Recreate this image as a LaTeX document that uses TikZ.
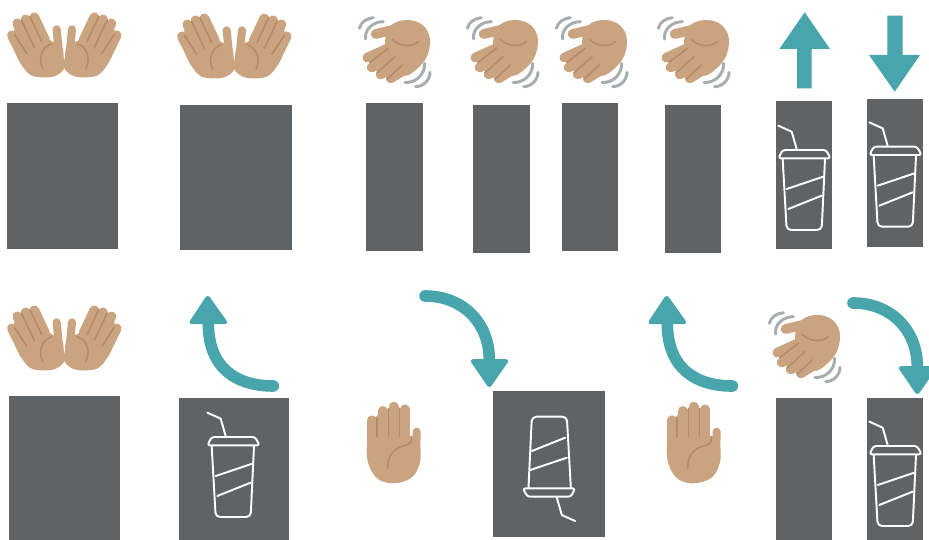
\documentclass[tikz,border=0pt]{standalone}
\usepackage{xcolor}
\definecolor{mlslate}{RGB}{95,99,102}
\definecolor{mlteal}{RGB}{71,165,171}
\definecolor{mlskin}{RGB}{202,163,128}
\definecolor{mlcrease}{RGB}{178,140,104}
\definecolor{mlwave}{RGB}{168,173,176}
\newcommand{\openhalf}{
  \draw[finger] (36,106) -- (75,185);
  \draw[finger] (52,70) -- (92,155);
  \draw[finger] (77,58) -- (115,135);
  \draw[finger] (103,52) -- (135,120);
  \draw[thumb] (170,88) -- (176,150);
  \fill[skin] (36,106) -- (52,70) -- (77,58) -- (103,52) -- (135,120) -- (75,185) -- cycle;
  \fill[skin] plot[smooth cycle,tension=0.6] coordinates {(193,205) (165,228) (125,232) (90,224) (62,190) (52,150) (110,100) (152,122) (185,140) (191,170)};
  \draw[crease] (44,104) -- (80,160);
  \draw[crease] (64,60) -- (103,142);
  \draw[crease] (90,50) -- (125,125);
  \draw[crease] (155,131) .. controls (128,140) and (112,170) .. (128,205);
}
\tikzset{
  panel/.style={fill=mlslate,inner sep=0pt,outer sep=0pt},
  skin/.style={fill=mlskin,draw=none},
  finger/.style={draw=mlskin,line width=5.6pt,line cap=round},
  thumb/.style={draw=mlskin,line width=4.6pt,line cap=round},
  crease/.style={draw=mlcrease,line width=0.9pt,line cap=round},
  wave/.style={draw=mlwave,line width=1.7pt,line cap=round},
  cupline/.style={draw=white,line width=1.1pt,line cap=round,line join=round},
  flow/.style={draw=mlteal,line width=6.6pt,line cap=round},
  flowhead/.style={fill=mlteal,draw=mlteal,line width=1pt,line join=round},
  openhands/.pic={
    \begin{scope}[scale=1/3]
      \openhalf
      \begin{scope}[shift={(386,0)},xscale=-1]
        \openhalf
      \end{scope}
    \end{scope}
  },
  wavehand/.pic={
    \begin{scope}[scale=1/3]
      \draw[wave] (28,70) .. controls (32,52) and (50,40) .. (70,38);
      \draw[wave] (47,102) .. controls (42,75) and (68,50) .. (100,50);
      \draw[wave] (165,232) .. controls (195,235) and (225,210) .. (224,175);
      \draw[wave] (197,245) .. controls (220,245) and (240,225) .. (240,202);
      \draw[finger] (77,87) -- (140,72);
      \draw[finger] (125,125) -- (52,158);
      \draw[finger] (145,148) -- (65,187);
      \draw[finger] (165,170) -- (92,208);
      \draw[finger] (180,185) -- (122,220);
      \fill[skin] (52,158) -- (65,187) -- (92,208) -- (122,220) -- (180,185) -- (125,125) -- cycle;
      \fill[skin] plot[smooth cycle,tension=0.6] coordinates {(125,60) (175,45) (220,62) (240,105) (225,165) (170,212) (130,190) (105,115)};
      \draw[crease] (128,104) .. controls (150,125) and (185,128) .. (205,110);
      \draw[crease] (115,130) -- (60,172);
      \draw[crease] (135,155) -- (82,203);
      \draw[crease] (157,180) -- (112,222);
    \end{scope}
  },
  raisedhand/.pic={
    \begin{scope}[scale=1/3]
      \draw[finger] (65,421) -- (65,520);
      \draw[finger] (98,393) -- (98,500);
      \draw[finger] (131,380) -- (131,500);
      \draw[finger] (165,388) -- (165,500);
      \draw[thumb] (200,455) -- (198,530);
      \fill[skin] (65,421) -- (98,393) -- (131,380) -- (165,388) -- (165,500) -- (65,500) -- cycle;
      \fill[skin] plot[smooth cycle,tension=0.6] coordinates {(130,610) (78,592) (51,530) (70,460) (190,470) (212,530) (188,590)};
      \draw[crease] (81,415) -- (81,470);
      \draw[crease] (115,385) -- (115,470);
      \draw[crease] (148,385) -- (148,470);
      \draw[crease] (185,472) .. controls (185,490) and (178,494) .. (160,498) .. controls (130,505) and (112,530) .. (113,565);
    \end{scope}
  },
  cupicon/.pic={
    \begin{scope}[scale=1/3]
      \draw[cupline,rounded corners=1.5pt] (25,460) -- (38,435) -- (168,435) -- (182,460) -- cycle;
      \draw[cupline,rounded corners=2.5pt] (38,462) -- (50,675) -- (155,675) -- (165,462);
      \draw[cupline] (50,552) -- (160,515);
      \draw[cupline] (55,612) -- (155,572);
      \draw[cupline] (25,362) -- (65,380) -- (80,432);
    \end{scope}
  },
  turnup/.pic={
    \begin{scope}[scale=1/3]
      \draw[flow] (310,303) .. controls (200,303) and (115,250) .. (115,115);
      \draw[flowhead,rounded corners=1.5pt] (113,32) -- (58,115) -- (172,115) -- cycle;
    \end{scope}
  },
  turndown/.pic={
    \begin{scope}[scale=1/3]
      \draw[flow] (225,48) .. controls (340,48) and (418,130) .. (418,240);
      \draw[flowhead,rounded corners=1.5pt] (418,322) -- (362,240) -- (475,240) -- cycle;
    \end{scope}
  },
}
\begin{document}
\begin{tikzpicture}[x=0.02cm,y=-0.02cm]
  \useasboundingbox (0,0) rectangle (929,540);
  % top row
  \node[panel,minimum width=2.22cm,minimum height=2.92cm] (box1) at (62.5,176) {};
  \node[panel,minimum width=2.24cm,minimum height=2.90cm] (box2) at (236,177.5) {};
  \node[panel,minimum width=1.14cm,minimum height=2.96cm] (box3) at (394.5,177) {};
  \node[panel,minimum width=1.14cm,minimum height=2.96cm] (box4) at (501.5,179) {};
  \node[panel,minimum width=1.12cm,minimum height=2.96cm] (box5) at (590,177) {};
  \node[panel,minimum width=1.12cm,minimum height=2.96cm] (box6) at (693,179) {};
  \node[panel,minimum width=1.12cm,minimum height=2.96cm] (box7) at (804,175) {};
  \node[panel,minimum width=1.12cm,minimum height=2.96cm] (box8) at (895,173) {};
  % bottom row
  \node[panel,minimum width=2.22cm,minimum height=2.88cm] (box9) at (64.5,468) {};
  \node[panel,minimum width=2.22cm,minimum height=2.84cm] (box10) at (234,469) {};
  \node[panel,minimum width=2.24cm,minimum height=2.92cm] (box11) at (549,464) {};
  \node[panel,minimum width=1.12cm,minimum height=2.84cm] (box12) at (804,469) {};
  \node[panel,minimum width=1.12cm,minimum height=2.84cm] (box13) at (895,469) {};
  % hands
  \pic at (0,0) {openhands};
  \pic at (170,1) {openhands};
  \pic at (0,293) {openhands};
  \pic at (350,5) {wavehand};
  \pic at (458,5) {wavehand};
  \pic at (547,5) {wavehand};
  \pic at (649,5) {wavehand};
  \pic at (760,300) {wavehand};
  \pic at (350,280) {raisedhand};
  \pic at (650,280) {raisedhand};
  % cups
  \pic at (770,5) {cupicon};
  \pic at (861,1.7) {cupicon};
  \pic at (199,292) {cupicon};
  \pic at (861,301) {cupicon};
  \pic[rotate=180] at (583.5,641.7) {cupicon};
  % arrows
  \fill[mlteal] (804.7,12.3) -- (830,49) -- (811.7,49) -- (811.7,88.3) -- (797,88.3) -- (797,49) -- (779.3,49) -- cycle;
  \fill[mlteal] (894.7,91.7) -- (920,55) -- (902.7,55) -- (902.7,15.7) -- (887.3,15.7) -- (887.3,55) -- (869,55) -- cycle;
  \pic at (170,285) {turnup};
  \pic at (629,285) {turnup};
  \pic at (350,280) {turndown};
  \pic at (778,287) {turndown};
\end{tikzpicture}
\end{document}
